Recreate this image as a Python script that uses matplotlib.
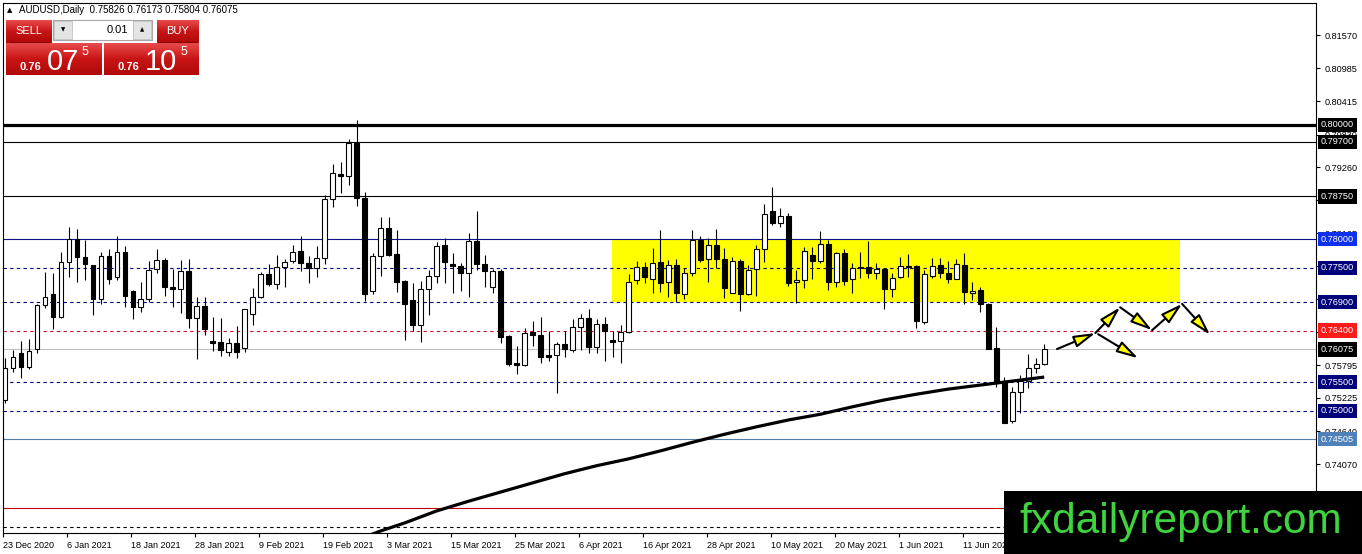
import numpy as np
import matplotlib
matplotlib.use("Agg")
from matplotlib import pyplot as plt
from matplotlib.patches import Rectangle, FancyArrowPatch

plt.rcParams["font.family"] = ["Liberation Sans", "DejaVu Sans"]

# daily AUDUSD candles, 23 Dec 2020 .. 25 Jun 2021
opens = [
    0.7519, 0.7575, 0.7601, 0.7577, 0.7608, 0.7685, 0.7704, 0.7664, 0.7760, 0.7800,
    0.7769, 0.7755, 0.7695, 0.7771, 0.7734, 0.7778, 0.7709, 0.7681, 0.7695, 0.7748,
    0.7764, 0.7716, 0.7713, 0.7744, 0.7662, 0.7683, 0.7622, 0.7620, 0.7603, 0.7618,
    0.7610, 0.7669, 0.7699, 0.7739, 0.7722, 0.7751, 0.7762, 0.7779, 0.7758, 0.7750,
    0.7767, 0.7870, 0.7914, 0.7911, 0.7968, 0.7872, 0.7709, 0.7771, 0.7820, 0.7774,
    0.7727, 0.7694, 0.7650, 0.7713, 0.7736, 0.7790, 0.7757, 0.7753, 0.7741, 0.7797,
    0.7757, 0.7716, 0.7744, 0.7631, 0.7584, 0.7580, 0.7638, 0.7633, 0.7598, 0.7598,
    0.7617, 0.7606, 0.7647, 0.7662, 0.7612, 0.7652, 0.7624, 0.7622, 0.7638, 0.7729,
    0.7751, 0.7731, 0.7760, 0.7725, 0.7755, 0.7704, 0.7741, 0.7799, 0.7765, 0.7790,
    0.7765, 0.7706, 0.7762, 0.7704, 0.7748, 0.7783, 0.7849, 0.7828, 0.7841, 0.7725,
    0.7729, 0.7772, 0.7762, 0.7792, 0.7725, 0.7776, 0.7731, 0.7750, 0.7751, 0.7741,
    0.7748, 0.7713, 0.7734, 0.7751, 0.7753, 0.7655, 0.7736, 0.7755, 0.7741, 0.7731,
    0.7755, 0.7706, 0.7711, 0.7687, 0.7610, 0.7550, 0.7482, 0.7533, 0.7552, 0.7575,
    0.75826,
]
highs = [
    0.7592, 0.7606, 0.7622, 0.7626, 0.7687, 0.7743, 0.7741, 0.7778, 0.7821, 0.7818,
    0.7799, 0.7755, 0.7778, 0.7783, 0.7805, 0.7788, 0.7711, 0.7725, 0.7762, 0.7783,
    0.7767, 0.7748, 0.7764, 0.7765, 0.7699, 0.7699, 0.7664, 0.7662, 0.7627, 0.7648,
    0.7678, 0.7715, 0.7743, 0.7757, 0.7772, 0.7765, 0.7790, 0.7805, 0.7771, 0.7788,
    0.7877, 0.7932, 0.7935, 0.7975, 0.8008, 0.7882, 0.7776, 0.7839, 0.7839, 0.7816,
    0.7729, 0.7724, 0.7727, 0.7746, 0.7795, 0.7802, 0.7776, 0.7758, 0.7811, 0.7849,
    0.7772, 0.7748, 0.7748, 0.7633, 0.7613, 0.7645, 0.7657, 0.7664, 0.7640, 0.7620,
    0.7640, 0.7660, 0.7669, 0.7678, 0.7660, 0.7664, 0.7640, 0.7650, 0.7739, 0.7762,
    0.7760, 0.7785, 0.7816, 0.7764, 0.7765, 0.7750, 0.7816, 0.7805, 0.7802, 0.7818,
    0.7785, 0.7769, 0.7765, 0.7755, 0.7790, 0.7861, 0.7891, 0.7855, 0.7846, 0.7746,
    0.7786, 0.7786, 0.7814, 0.7799, 0.7778, 0.7783, 0.7758, 0.7778, 0.7797, 0.7758,
    0.7750, 0.7741, 0.7769, 0.7774, 0.7755, 0.7746, 0.7767, 0.7767, 0.7762, 0.7765,
    0.7776, 0.7725, 0.7716, 0.7689, 0.7647, 0.7559, 0.7542, 0.7563, 0.7599, 0.7592,
    0.76173,
]
lows = [
    0.7514, 0.7568, 0.7557, 0.7573, 0.7601, 0.7680, 0.7643, 0.7662, 0.7734, 0.7725,
    0.7729, 0.7668, 0.7687, 0.7722, 0.7729, 0.7681, 0.7660, 0.7673, 0.7690, 0.7741,
    0.7701, 0.7681, 0.7671, 0.7645, 0.7591, 0.7633, 0.7605, 0.7596, 0.7596, 0.7592,
    0.7603, 0.7650, 0.7697, 0.7718, 0.7713, 0.7716, 0.7758, 0.7744, 0.7723, 0.7734,
    0.7757, 0.7856, 0.7880, 0.7895, 0.7858, 0.7692, 0.7704, 0.7736, 0.7771, 0.7708,
    0.7624, 0.7640, 0.7620, 0.7668, 0.7723, 0.7723, 0.7706, 0.7709, 0.7699, 0.7746,
    0.7716, 0.7706, 0.7618, 0.7578, 0.7564, 0.7578, 0.7613, 0.7584, 0.7587, 0.7531,
    0.7594, 0.7603, 0.7606, 0.7601, 0.7601, 0.7587, 0.7594, 0.7584, 0.7636, 0.7722,
    0.7723, 0.7706, 0.7708, 0.7699, 0.7690, 0.7695, 0.7736, 0.7760, 0.7725, 0.7750,
    0.7697, 0.7706, 0.7674, 0.7702, 0.7701, 0.7760, 0.7825, 0.7821, 0.7718, 0.7688,
    0.7715, 0.7730, 0.7758, 0.7711, 0.7716, 0.7720, 0.7706, 0.7732, 0.7732, 0.7731,
    0.7678, 0.7699, 0.7732, 0.7734, 0.7645, 0.7652, 0.7732, 0.7732, 0.7723, 0.7731,
    0.7687, 0.7694, 0.7673, 0.7608, 0.7542, 0.7479, 0.7479, 0.7496, 0.7540, 0.7566,
    0.75804,
]
closes = [
    0.7575, 0.7594, 0.7577, 0.7605, 0.7685, 0.7699, 0.7664, 0.7760, 0.7800, 0.7769,
    0.7757, 0.7695, 0.7771, 0.7730, 0.7778, 0.7701, 0.7681, 0.7695, 0.7746, 0.7764,
    0.7716, 0.7713, 0.7744, 0.7662, 0.7683, 0.7643, 0.7618, 0.7606, 0.7618, 0.7603,
    0.7678, 0.7699, 0.7739, 0.7722, 0.7751, 0.7760, 0.7778, 0.7758, 0.7750, 0.7767,
    0.7870, 0.7916, 0.7911, 0.7968, 0.7872, 0.7704, 0.7771, 0.7820, 0.7773, 0.7725,
    0.7687, 0.7650, 0.7713, 0.7736, 0.7788, 0.7760, 0.7753, 0.7741, 0.7797, 0.7757,
    0.7744, 0.7744, 0.7629, 0.7582, 0.7580, 0.7636, 0.7633, 0.7594, 0.7594, 0.7617,
    0.7608, 0.7647, 0.7662, 0.7612, 0.7652, 0.7640, 0.7620, 0.7638, 0.7725, 0.7751,
    0.7734, 0.7758, 0.7723, 0.7755, 0.7706, 0.7741, 0.7799, 0.7764, 0.7790, 0.7765,
    0.7715, 0.7762, 0.7704, 0.7746, 0.7783, 0.7844, 0.7828, 0.7841, 0.7723, 0.7729,
    0.7779, 0.7762, 0.7792, 0.7725, 0.7776, 0.7727, 0.7750, 0.7751, 0.7741, 0.7748,
    0.7713, 0.7732, 0.7753, 0.7753, 0.7657, 0.7739, 0.7753, 0.7741, 0.7731, 0.7757,
    0.7708, 0.7709, 0.7687, 0.7608, 0.7550, 0.7479, 0.7533, 0.7552, 0.7575, 0.7582,
    0.76075,
]

# moving average (thick black curve), sampled every few bars
ma_idx = [44, 47, 50, 54, 58, 62, 66, 70, 74, 78, 82, 86, 90, 94, 98, 102, 106, 110, 114, 118, 122, 126, 130]
ma_vals = [0.7274, 0.7290, 0.7304, 0.7325, 0.7342, 0.7358, 0.7374, 0.7390, 0.7404, 0.7416, 0.7430, 0.7445,
           0.7459, 0.7472, 0.7484, 0.7494, 0.7507, 0.7519, 0.7529, 0.7538, 0.7545, 0.7552, 0.7559]

date_labels = ["23 Dec 2020", "6 Jan 2021", "18 Jan 2021", "28 Jan 2021", "9 Feb 2021", "19 Feb 2021",
               "3 Mar 2021", "15 Mar 2021", "25 Mar 2021", "6 Apr 2021", "16 Apr 2021", "28 Apr 2021",
               "10 May 2021", "20 May 2021", "1 Jun 2021", "11 Jun 2021"]
price_ticks = [0.74070, 0.74640, 0.75225, 0.75795, 0.76380, 0.76950, 0.77535, 0.78105, 0.78690,
               0.79260, 0.79830, 0.80415, 0.80985, 0.81570]
# these three sit fully under the level boxes
hidden_ticks = [0.76380, 0.76950, 0.77535]

# horizontal levels: (price, colour, width, dashed, label background)
levels = [
    (0.8000, "black", 2.3, False, "black"),
    (0.7970, "black", 0.8, False, "black"),
    (0.7875, "black", 0.8, False, "black"),
    (0.7800, "#10108a", 0.8, False, "#1030f0"),
    (0.7750, "#00007a", 0.8, True, "#00007a"),
    (0.7690, "#00007a", 0.8, True, "#00007a"),
    (0.7640, "#c8102a", 0.8, True, "#ff1a1a"),
    (0.76075, "#c0c0c0", 0.8, False, "black"),
    (0.7550, "#00007a", 0.8, True, "#00007a"),
    (0.7500, "#00007a", 0.8, True, "#00007a"),
    (0.74505, "#4f7fa8", 0.8, False, "#4f80b8"),
    (0.7330, "#c00000", 0.8, False, None),
    (0.7297, "black", 0.8, True, None),
]

# drawn scenario arrows (bar index, price)
arrow_x0 = [131.6, 136.4, 139.5, 143.5, 147.25, 136.75]
arrow_y0 = [0.7608, 0.7636, 0.7681, 0.7641, 0.7687, 0.7634]
arrow_x1 = [136.4, 139.5, 143.5, 147.25, 150.75, 141.75]
arrow_y1 = [0.7636, 0.7681, 0.7641, 0.7687, 0.7633, 0.7592]

fig = plt.figure(figsize=(13.62, 5.54), dpi=100)
ax = fig.add_axes([3 / 1362, 21 / 554, 1313 / 1362, 530 / 554])

# yellow range box
ax.add_patch(Rectangle((75.9, 0.7690), 147 - 75.9, 0.7800 - 0.7690, facecolor="#ffff00",
                       edgecolor="none", zorder=1))

for price, col, lw, dashed, lab_bg in levels:
    ax.axhline(price, color=col, lw=lw, ls=(0, (3, 3)) if dashed else "-", zorder=2)
    if lab_bg is not None:
        ax.text(1.0038, price, f"{price:.5f}", transform=ax.get_yaxis_transform(),
                ha="left", va="center", fontsize=6.6, color="white", zorder=8, clip_on=False,
                bbox=dict(boxstyle="square,pad=0.3", facecolor=lab_bg, edgecolor="none"))

o = np.array(opens)
h = np.array(highs)
l = np.array(lows)
c = np.array(closes)
idx = np.arange(len(o))
up = c >= o
ax.vlines(idx, l, h, color="black", lw=0.8, zorder=3)
body_lo = np.minimum(o, c)
body_h = np.maximum(np.abs(c - o), 0.00008)
ax.bar(idx, body_h, bottom=body_lo, width=0.6, color=np.where(up, "white", "black"),
       edgecolor="black", linewidth=0.8, zorder=4)

ax.plot(ma_idx, ma_vals, color="black", lw=2.3, zorder=5, solid_capstyle="butt")

for x0, y0, x1, y1 in zip(arrow_x0, arrow_y0, arrow_x1, arrow_y1):
    ax.add_patch(FancyArrowPatch((x0, y0), (x1, y1), arrowstyle="-|>,head_length=1.3,head_width=0.36",
                                 mutation_scale=10, facecolor="#ffff00", edgecolor="black",
                                 lw=1.5, zorder=6, shrinkA=0, shrinkB=0))

ax.set_xlim(-0.25, 164)
ax.set_ylim(0.72864, 0.8213)

ax.set_xticks(np.arange(len(date_labels)) * 8 - 0.2)
ax.set_xticklabels(date_labels, fontsize=6.5)
for lbl in ax.get_xticklabels():
    lbl.set_ha("left")
ax.tick_params(axis="x", direction="out", length=3, width=0.8, pad=3)

ax.yaxis.tick_right()
ax.set_yticks(price_ticks)
ax.set_yticklabels(["" if t in hidden_ticks else f"{t:.5f}" for t in price_ticks], fontsize=6.6)
ax.tick_params(axis="y", direction="out", length=3, width=0.8, pad=3)
for sp in ax.spines.values():
    sp.set_linewidth(0.8)

# overlay in pixel coordinates for the trade panel and watermark
ov = fig.add_axes([0, 0, 1, 1], zorder=10)
ov.patch.set_alpha(0)
ov.axis("off")

ov.text(7, 10, "\u25b2", fontsize=5, va="center", ha="left", family="DejaVu Sans")
ov.text(19, 10, "AUDUSD,Daily  0.75826 0.76173 0.75804 0.76075", fontsize=7, va="center", ha="left")

grad = np.linspace(0, 1, 32)[:, None]
red_cmap = matplotlib.colors.LinearSegmentedColormap.from_list("r", ["#e84a4a", "#c81414", "#b00a0a"])


def red_box(x, y, w, hgt):
    ov.imshow(grad, cmap=red_cmap, extent=(x, x + w, y + hgt, y), origin="upper",
              aspect="auto", interpolation="bilinear")


red_box(6, 20, 46, 23)
red_box(157, 20, 42, 23)
red_box(6, 43, 96, 32)
red_box(104, 43, 95, 32)
ov.plot([10, 48], [42, 42], color="#8a0000", lw=0.8)
ov.plot([160, 196], [42, 42], color="#8a0000", lw=0.8)
ov.text(29, 31, "SELL", color="white", fontsize=8, ha="center", va="center")
ov.text(178, 31, "BUY", color="white", fontsize=8, ha="center", va="center")

ov.add_patch(Rectangle((53, 20), 99, 20, facecolor="white", edgecolor="#a8a8a8", lw=0.8))
ov.add_patch(Rectangle((54, 21), 18, 18, facecolor="#e4e4e4", edgecolor="#c0c0c0", lw=0.6))
ov.add_patch(Rectangle((133, 21), 18, 18, facecolor="#e4e4e4", edgecolor="#c0c0c0", lw=0.6))
ov.text(63, 30, "\u25bc", fontsize=4, ha="center", va="center", family="DejaVu Sans")
ov.text(142, 30, "\u25b2", fontsize=4, ha="center", va="center", family="DejaVu Sans")
ov.text(128, 30, "0.01", fontsize=8, ha="right", va="center")

ov.text(20, 70, "0.76", color="white", fontsize=8, fontweight="bold", va="baseline")
ov.text(47, 70, "07", color="white", fontsize=21, va="baseline")
ov.text(82, 55, "5", color="white", fontsize=9, va="baseline")
ov.text(117, 70, "0.76", color="white", fontsize=8, fontweight="bold", va="baseline")
ov.text(145, 70, "10", color="white", fontsize=21, va="baseline")
ov.text(181, 55, "5", color="white", fontsize=9, va="baseline")

ov.add_patch(Rectangle((1004, 491), 358, 63, facecolor="black", edgecolor="none"))
ov.text(1019, 533, "fxdailyreport.com", color="#3fd33f", fontsize=30.5, va="baseline", ha="left")

ov.set_xlim(0, 1362)
ov.set_ylim(554, 0)

fig.savefig("out.png", dpi=100)
